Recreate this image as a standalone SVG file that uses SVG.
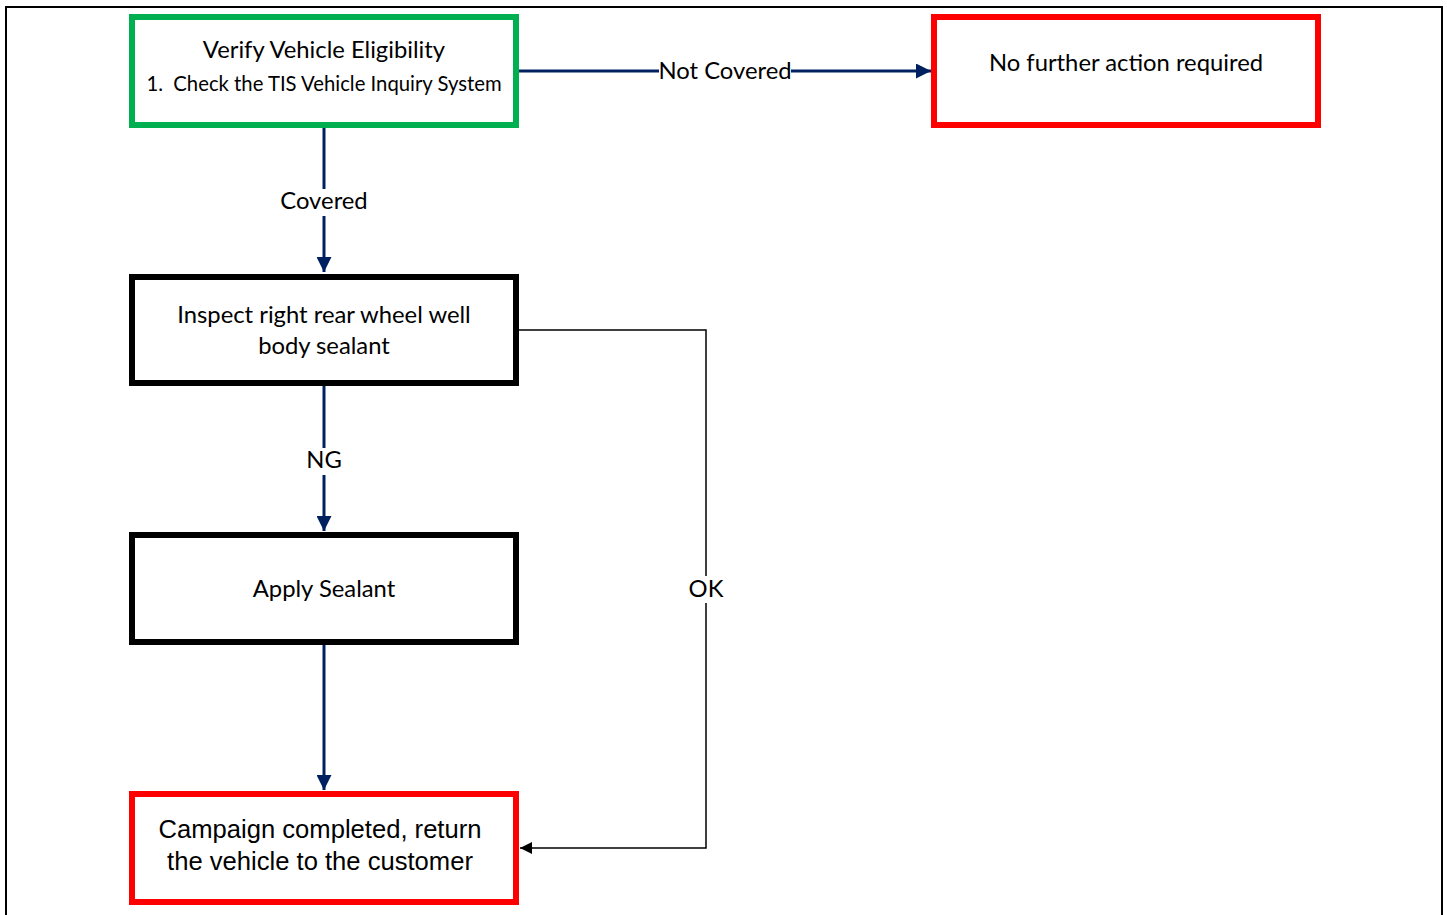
<svg xmlns="http://www.w3.org/2000/svg" width="1447" height="915" viewBox="0 0 1447 915">
<style>
.box{fill:#fff;stroke-width:6}
.g{stroke:#00B050}.r{stroke:#FF0000}.k{stroke:#000}
.t{font-family:Lato,"Open Sans","Liberation Sans",sans-serif;font-size:23.8px;fill:#000;text-anchor:middle}
.a{font-family:"Liberation Sans",Arial,sans-serif;font-size:25.6px;fill:#000;text-anchor:middle}
.c{stroke:#002060;stroke-width:3;fill:none}
.thin{stroke:#000;stroke-width:1.5;fill:none}
</style>
<defs>
<marker id="ah" viewBox="0 0 10 10" refX="10" refY="5" markerWidth="5" markerHeight="5" markerUnits="strokeWidth" orient="auto"><path d="M0,0L10,5L0,10z" fill="#002060"/></marker>
<marker id="ahk" viewBox="0 0 10 10" refX="10" refY="5" markerWidth="8" markerHeight="8" markerUnits="strokeWidth" orient="auto"><path d="M0,0L10,5L0,10z" fill="#000"/></marker>
</defs>
<rect x="0" y="0" width="1447" height="915" fill="#fff"/>
<rect x="6" y="7" width="1436" height="920" fill="none" stroke="#000" stroke-width="2"/>
<g id="connectors">
<path class="c" d="M324,128V189"/>
<path class="c" d="M324,216V272" marker-end="url(#ah)"/>
<path class="c" d="M324,386V448"/>
<path class="c" d="M324,475V531" marker-end="url(#ah)"/>
<path class="c" d="M324,645V790" marker-end="url(#ah)"/>
<path class="c" d="M519,71H659"/>
<path class="c" d="M791,71H931" marker-end="url(#ah)"/>
<path class="thin" d="M519,330H706V576"/>
<path class="thin" d="M706,603V848H520" marker-end="url(#ahk)"/>
<text class="t" x="324" y="209">Covered</text>
<text class="t" x="324" y="468">NG</text>
<text class="t" x="725" y="79">Not Covered</text>
<text class="t" x="706" y="597">OK</text>
</g>
<g id="verify">
<rect class="box g" x="132" y="17" width="384" height="108"/>
<text class="t" x="324" y="58">Verify Vehicle Eligibility</text>
<text class="t" x="324" y="91" style="font-size:20.3px">1.&#160; Check the TIS Vehicle Inquiry System</text>
</g>
<g id="nofurther">
<rect class="box r" x="934" y="17" width="384" height="108"/>
<text class="t" x="1126" y="71">No further action required</text>
</g>
<g id="inspect">
<rect class="box k" x="132" y="277" width="384" height="106"/>
<text class="t" x="324" y="323">Inspect right rear wheel well</text>
<text class="t" x="324" y="354">body sealant</text>
</g>
<g id="apply">
<rect class="box k" x="132" y="535" width="384" height="107"/>
<text class="t" x="324" y="597">Apply Sealant</text>
</g>
<g id="campaign">
<rect class="box r" x="132" y="794" width="384" height="108"/>
<text class="a" x="320" y="838">Campaign completed, return</text>
<text class="a" x="320" y="870">the vehicle to the customer</text>
</g>
</svg>
